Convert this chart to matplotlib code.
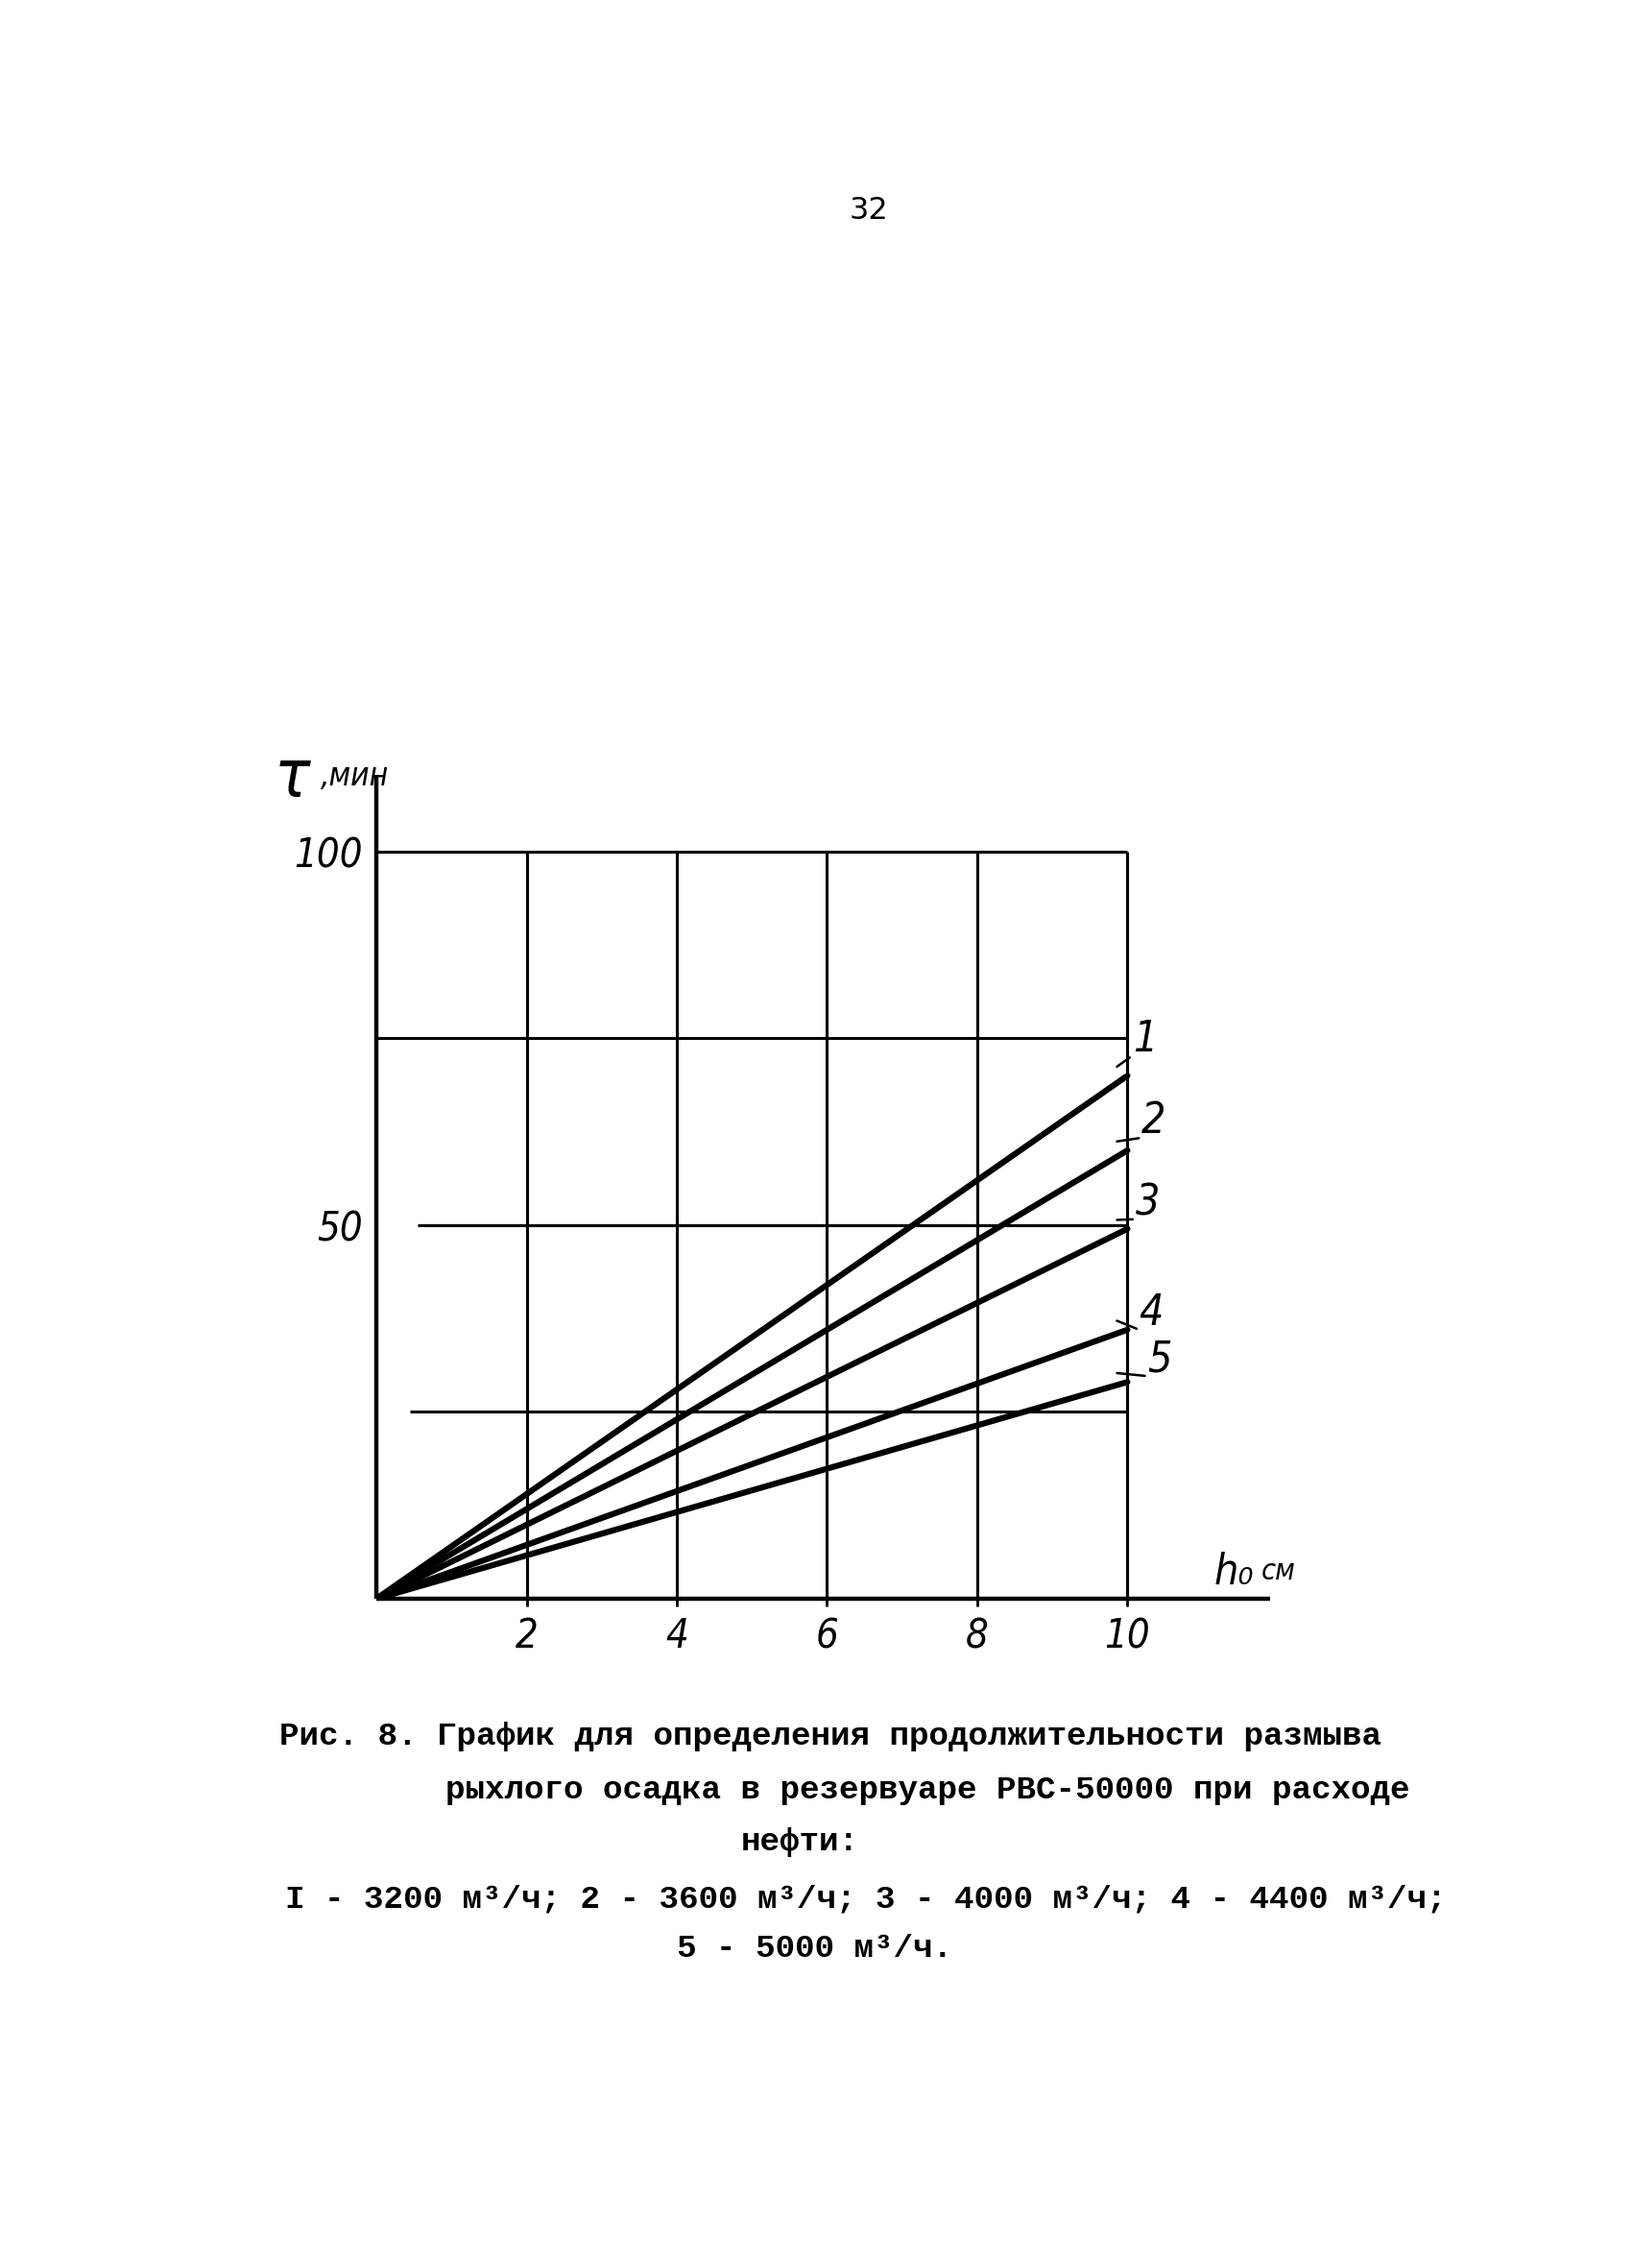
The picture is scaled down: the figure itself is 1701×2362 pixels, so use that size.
import matplotlib
matplotlib.use("Agg")
import matplotlib.pyplot as plt

# Wash-out time of loose sediment in tank RVS-50000 versus sediment height h0
curve_ids = ["1", "2", "3", "4", "5"]
flow_rates = [3200, 3600, 4000, 4400, 5000]      # oil flow rate, m3/h
h0_end = 10.0                                     # cm
tau_end = [70.0, 60.0, 49.5, 36.0, 29.0]          # min at h0 = 10 cm

x_ticks = [2, 4, 6, 8, 10]
y_ticks = [50, 100]
grid_y = [25, 50, 75, 100]

W, H = 1701, 2362
fig = plt.figure(figsize=(W / 100, H / 100), dpi=100)
fig.patch.set_facecolor("white")


def fpos(x, y):
    """Pixel position on the page -> figure fraction."""
    return x / W, 1 - y / H


hand = dict(family="DejaVu Sans", style="oblique", stretch="condensed", color="black")
typewriter = dict(family=["Liberation Mono", "DejaVu Sans Mono"], weight="bold",
                  color="black", fontsize=24.7)

ax = fig.add_axes([0.2305, 0.2951, 0.5473, 0.3624])
ax.set_xlim(0, 11.9)
ax.set_ylim(0, 110)
ax.set_facecolor("none")
for side in ("top", "right"):
    ax.spines[side].set_visible(False)
for side in ("left", "bottom"):
    ax.spines[side].set_linewidth(3.2)
    ax.spines[side].set_capstyle("butt")

# grid box
ax.vlines(x_ticks, 0, 100, color="black", lw=2.2)
grid_start = {25: 0.45, 50: 0.55, 75: 0.0, 100: 0.0}
for gy in grid_y:
    ax.hlines(gy, grid_start[gy], 10, color="black", lw=2.2)

# curves
for tau in tau_end:
    ax.plot([0, h0_end], [0, tau], color="black", lw=4.5, solid_capstyle="round")

# curve numbers with short leaders
label_offsets = [(0.23, 4.9), (0.35, 3.9), (0.27, 3.5), (0.32, 2.2), (0.43, 3.0)]
for cid, tau, (dx, dy) in zip(curve_ids, tau_end, label_offsets):
    ax.annotate(cid, xy=(9.86, tau + 1.2), xytext=(h0_end + dx, tau + dy),
                ha="center", va="center", fontsize=32, **hand,
                arrowprops=dict(arrowstyle="-", lw=1.8, color="black",
                                relpos=(0.0, 0.1), shrinkA=0, shrinkB=0))

ax.set_xticks(x_ticks)
ax.set_xticklabels([str(v) for v in x_ticks])
ax.set_yticks(y_ticks)
ax.set_yticklabels([str(v) for v in y_ticks])
ax.tick_params(axis="x", direction="out", length=6, width=2, pad=7)
ax.tick_params(axis="y", length=0, pad=10)
for lab in ax.get_xticklabels() + ax.get_yticklabels():
    lab.set_fontsize(30)
    lab.set_fontfamily("DejaVu Sans")
    lab.set_fontstyle("oblique")
    lab.set_fontstretch("condensed")

# axis titles
fig.text(*fpos(286, 830), "τ", fontsize=50, ha="left", va="baseline", **hand)
fig.text(*fpos(334, 818), ",мин", fontsize=24, ha="left", va="baseline", **hand)
fig.text(*fpos(1265, 1650), "h₀", fontsize=32, ha="left", va="baseline", **hand)
fig.text(*fpos(1314, 1645), "см", fontsize=22, ha="left", va="baseline", **hand)

# page number
fig.text(*fpos(905, 220), "32", fontsize=23, ha="center", va="center",
         family="DejaVu Sans", color="black")

# caption
fig.text(*fpos(291, 1808), "Рис. 8. График для определения продолжительности размыва",
         ha="left", va="center", **typewriter)
fig.text(*fpos(464, 1864), "рыхлого осадка в резервуаре РВС-50000 при расходе",
         ha="left", va="center", **typewriter)
fig.text(*fpos(833, 1918), "нефти:", ha="center", va="center", **typewriter)
legend_items = [f"{'I' if cid == '1' else cid} - {q} м³/ч" for cid, q in zip(curve_ids, flow_rates)]
fig.text(*fpos(297, 1978), "; ".join(legend_items[:4]) + ";",
         ha="left", va="center", **typewriter)
fig.text(*fpos(705, 2029), legend_items[4] + ".", ha="left", va="center", **typewriter)

fig.savefig("out.png", dpi=100, facecolor="white")
